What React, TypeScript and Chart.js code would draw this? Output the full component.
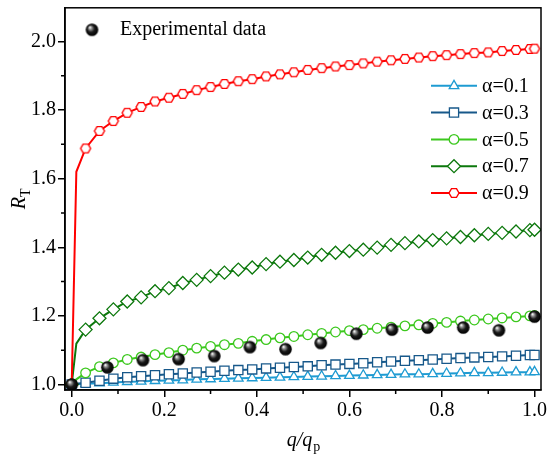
import { useEffect, useRef } from "react";
import { Chart, registerables } from "chart.js";
import { drawPoint } from "chart.js/helpers";

Chart.register(...registerables);

// q/q_p positions of the model curves
const qRatio = [
  0, 0.01, 0.03, 0.06, 0.09, 0.12, 0.15, 0.18, 0.21, 0.24, 0.27, 0.3, 0.33, 0.36, 0.39, 0.42, 0.45, 0.48,
  0.51, 0.54, 0.57, 0.6, 0.63, 0.66, 0.69, 0.72, 0.75, 0.78, 0.81, 0.84, 0.87, 0.9, 0.93, 0.96, 0.99, 1.0,
];

const alpha01 = [
  1.0, 1.001, 1.002, 1.004, 1.006, 1.008, 1.009, 1.011, 1.012, 1.013, 1.015, 1.016, 1.017, 1.018, 1.019, 1.02,
  1.021, 1.022, 1.023, 1.024, 1.025, 1.026, 1.027, 1.028, 1.029, 1.03, 1.03, 1.031, 1.032, 1.033, 1.034, 1.034,
  1.035, 1.036, 1.036, 1.037,
];
const alpha03 = [
  1.0, 1.002, 1.005, 1.011, 1.017, 1.021, 1.024, 1.027, 1.03, 1.032, 1.035, 1.037, 1.04, 1.042, 1.044, 1.047,
  1.049, 1.051, 1.053, 1.056, 1.058, 1.06, 1.062, 1.065, 1.067, 1.069, 1.071, 1.073, 1.075, 1.077, 1.079, 1.08,
  1.082, 1.084, 1.086, 1.086,
];
const alpha05 = [
  1.0, 1.015, 1.034, 1.052, 1.063, 1.073, 1.08, 1.087, 1.093, 1.1, 1.106, 1.111, 1.116, 1.12, 1.126, 1.131,
  1.136, 1.14, 1.145, 1.149, 1.153, 1.157, 1.16, 1.164, 1.167, 1.171, 1.174, 1.178, 1.181, 1.185, 1.188, 1.191,
  1.194, 1.197, 1.2, 1.201,
];
const alpha07 = [
  1.0, 1.119, 1.16, 1.193, 1.219, 1.242, 1.254, 1.272, 1.281, 1.296, 1.305, 1.316, 1.326, 1.335, 1.341, 1.351,
  1.358, 1.363, 1.37, 1.378, 1.384, 1.389, 1.393, 1.399, 1.407, 1.412, 1.417, 1.421, 1.426, 1.43, 1.435, 1.439,
  1.442, 1.446, 1.45, 1.451,
];
const alpha09 = [
  1.0, 1.62, 1.688, 1.739, 1.768, 1.792, 1.809, 1.825, 1.836, 1.847, 1.858, 1.867, 1.876, 1.884, 1.89, 1.898,
  1.904, 1.91, 1.917, 1.922, 1.927, 1.931, 1.936, 1.941, 1.945, 1.949, 1.953, 1.957, 1.96, 1.963, 1.966, 1.968,
  1.972, 1.975, 1.978, 1.979,
];

const expX = [0, 0.077, 0.154, 0.231, 0.308, 0.385, 0.462, 0.538, 0.615, 0.692, 0.769, 0.846, 0.923, 1.0];
const expY = [1.0, 1.05, 1.071, 1.074, 1.083, 1.109, 1.103, 1.121, 1.148, 1.16, 1.166, 1.166, 1.158, 1.198];

const xTicks = [0, 0.2, 0.4, 0.6, 0.8, 1.0];
const xMinor = [0.1, 0.3, 0.5, 0.7, 0.9];
const yTicks = [1.0, 1.2, 1.4, 1.6, 1.8, 2.0];
const yMinor = [1.1, 1.3, 1.5, 1.7, 1.9];

const FONT = "'Liberation Serif', 'Times New Roman', serif";

const makeBall = (r: number) => {
  const c = document.createElement("canvas");
  const s = Math.ceil(r * 2) + 2;
  c.width = s;
  c.height = s;
  const g = c.getContext("2d")!;
  const cx = s / 2;
  const cy = s / 2;
  const grad = g.createRadialGradient(cx - r * 0.35, cy - r * 0.4, r * 0.05, cx, cy, r);
  grad.addColorStop(0, "#ffffff");
  grad.addColorStop(0.2, "#9a9a9a");
  grad.addColorStop(0.55, "#1a1a1a");
  grad.addColorStop(1, "#000000");
  g.fillStyle = grad;
  g.beginPath();
  g.arc(cx, cy, r, 0, Math.PI * 2);
  g.fill();
  return c;
};

const makeHexagon = (r: number, color: string) => {
  const c = document.createElement("canvas");
  const s = Math.ceil(r * 2) + 4;
  c.width = s;
  c.height = s;
  const g = c.getContext("2d")!;
  g.beginPath();
  for (let i = 0; i < 6; i++) {
    const a = (Math.PI / 3) * i;
    const px = s / 2 + r * Math.cos(a);
    const py = s / 2 + r * Math.sin(a);
    if (i === 0) g.moveTo(px, py);
    else g.lineTo(px, py);
  }
  g.closePath();
  g.fillStyle = "#ffffff";
  g.fill();
  g.strokeStyle = color;
  g.lineWidth = 1.4;
  g.stroke();
  return c;
};

const App = () => {
  const chartRef = useRef<HTMLCanvasElement | null>(null);
  const chartInstanceRef = useRef<Chart | null>(null);

  useEffect(() => {
    document.body.style.margin = "0";
    if (!chartRef.current) return;
    const ctx = chartRef.current.getContext("2d");
    if (!ctx) return;
    if (chartInstanceRef.current) chartInstanceRef.current.destroy();

    const ball = makeBall(6.3);
    const hexagon = makeHexagon(5, "#ff0000");

    const curves = [
      { label: "α=0.1", values: alpha01, color: "#1e9bd2", style: "triangle", radius: 5.5 },
      { label: "α=0.3", values: alpha03, color: "#17588a", style: "rect", radius: 6.5 },
      { label: "α=0.5", values: alpha05, color: "#3cc81e", style: "circle", radius: 4.8 },
      { label: "α=0.7", values: alpha07, color: "#0c780c", style: "rectRot", radius: 6.5 },
      { label: "α=0.9", values: alpha09, color: "#ff0000", style: hexagon as any, radius: 5 },
    ];

    const curveSets = curves
      .slice()
      .reverse()
      .map((c) => ({
        type: "line" as const,
        label: c.label,
        data: qRatio.map((q, i) => ({ x: q, y: c.values[i] })),
        borderColor: c.color,
        borderWidth: 2,
        tension: 0,
        pointStyle: c.style,
        pointRadius: (p: any) => (p.dataIndex === 1 ? 0 : c.radius),
        pointBackgroundColor: "#ffffff",
        pointBorderColor: c.color,
        pointBorderWidth: 1.3,
      }));

    const framePlugin = {
      id: "frame",
      afterDraw(chart: Chart) {
        const { ctx: g, chartArea: a, scales } = chart;
        const sx = scales.x;
        const sy = scales.y;
        g.save();
        g.strokeStyle = "#000";
        g.lineWidth = 1.5;
        g.strokeRect(a.left, a.top, a.right - a.left, a.bottom - a.top);
        // minor ticks
        g.beginPath();
        xMinor.forEach((v) => {
          const px = sx.getPixelForValue(v);
          g.moveTo(px, a.bottom);
          g.lineTo(px, a.bottom + 4);
        });
        yMinor.forEach((v) => {
          const py = sy.getPixelForValue(v);
          g.moveTo(a.left, py);
          g.lineTo(a.left - 4, py);
        });
        g.stroke();

        // axis titles
        g.fillStyle = "#000";
        g.textBaseline = "alphabetic";
        g.font = `italic 20px ${FONT}`;
        const w1 = g.measureText("q/q").width;
        g.font = `14px ${FONT}`;
        const w2 = g.measureText("p").width;
        const cx = (a.left + a.right) / 2;
        const bx = cx - (w1 + w2) / 2;
        g.font = `italic 20px ${FONT}`;
        g.fillText("q/q", bx, a.bottom + 56);
        g.font = `14px ${FONT}`;
        g.fillText("p", bx + w1 + 1, a.bottom + 61);

        g.save();
        g.translate(a.left - 40, (a.top + a.bottom) / 2);
        g.rotate(-Math.PI / 2);
        g.font = `italic 20px ${FONT}`;
        const r1 = g.measureText("R").width;
        g.font = `14px ${FONT}`;
        const r2 = g.measureText("T").width;
        const rx = -(r1 + r2) / 2;
        g.font = `italic 20px ${FONT}`;
        g.fillText("R", rx, 0);
        g.font = `14px ${FONT}`;
        g.fillText("T", rx + r1, 5);
        g.restore();

        // legends
        g.font = `20px ${FONT}`;
        g.textBaseline = "middle";
        drawPoint(g, { pointStyle: ball as any, radius: 6, rotation: 0, borderWidth: 0 }, a.left + 27, a.top + 22);
        g.fillText("Experimental data", a.left + 55, a.top + 22);

        curves.forEach((c, i) => {
          const y = a.top + 78 + i * 26.8;
          const x0 = a.right - 110;
          g.strokeStyle = c.color;
          g.lineWidth = 2;
          g.beginPath();
          g.moveTo(x0, y);
          g.lineTo(x0 + 46, y);
          g.stroke();
          g.fillStyle = "#ffffff";
          g.strokeStyle = c.color;
          g.lineWidth = 1.3;
          drawPoint(g, { pointStyle: c.style, radius: c.radius, rotation: 0, borderWidth: 1.3 }, x0 + 23, y);
          g.fillStyle = "#000";
          g.fillText(c.label, x0 + 51, y + 1);
        });
        g.restore();
      },
    };

    chartInstanceRef.current = new Chart(ctx, {
      type: "line",
      data: {
        datasets: [
          {
            type: "scatter" as const,
            label: "Experimental data",
            data: expX.map((q, i) => ({ x: q, y: expY[i] })),
            pointStyle: ball as any,
            pointRadius: 6,
            showLine: false,
          },
          ...curveSets,
        ] as any,
      },
      options: {
        responsive: false,
        animation: false,
        layout: { padding: { top: 2, right: 9, left: 0, bottom: 0 } },
        plugins: {
          legend: { display: false },
          tooltip: { enabled: false },
        },
        scales: {
          x: {
            type: "linear",
            min: -0.0145,
            max: 1.014,
            afterBuildTicks: (axis: any) => {
              axis.ticks = xTicks.map((v) => ({ value: v }));
            },
            afterFit: (axis: any) => {
              axis.height = 71;
              axis.paddingLeft = 0;
              axis.paddingRight = 0;
            },
            ticks: {
              font: { family: FONT, size: 20 },
              color: "#000",
              padding: 2,
              maxRotation: 0,
              callback: (v: any) => Number(v).toFixed(1),
            },
            grid: { drawOnChartArea: false, tickLength: 7, color: "#000", lineWidth: 1.5 },
            border: { color: "#000", width: 1.5 },
          },
          y: {
            type: "linear",
            min: 0.984,
            max: 2.098,
            afterBuildTicks: (axis: any) => {
              axis.ticks = yTicks.map((v) => ({ value: v }));
            },
            afterFit: (axis: any) => {
              axis.width = 65;
              axis.paddingTop = 0;
              axis.paddingBottom = 0;
            },
            ticks: {
              font: { family: FONT, size: 20 },
              color: "#000",
              padding: 2,
              callback: (v: any) => Number(v).toFixed(1),
            },
            grid: { drawOnChartArea: false, tickLength: 7, color: "#000", lineWidth: 1.5 },
            border: { color: "#000", width: 1.5 },
          },
        },
      },
      plugins: [framePlugin],
    });

    return () => {
      if (chartInstanceRef.current) {
        chartInstanceRef.current.destroy();
        chartInstanceRef.current = null;
      }
    };
  }, []);

  return <canvas ref={chartRef} width={550} height={461} style={{ display: "block" }} />;
};

export default App;
